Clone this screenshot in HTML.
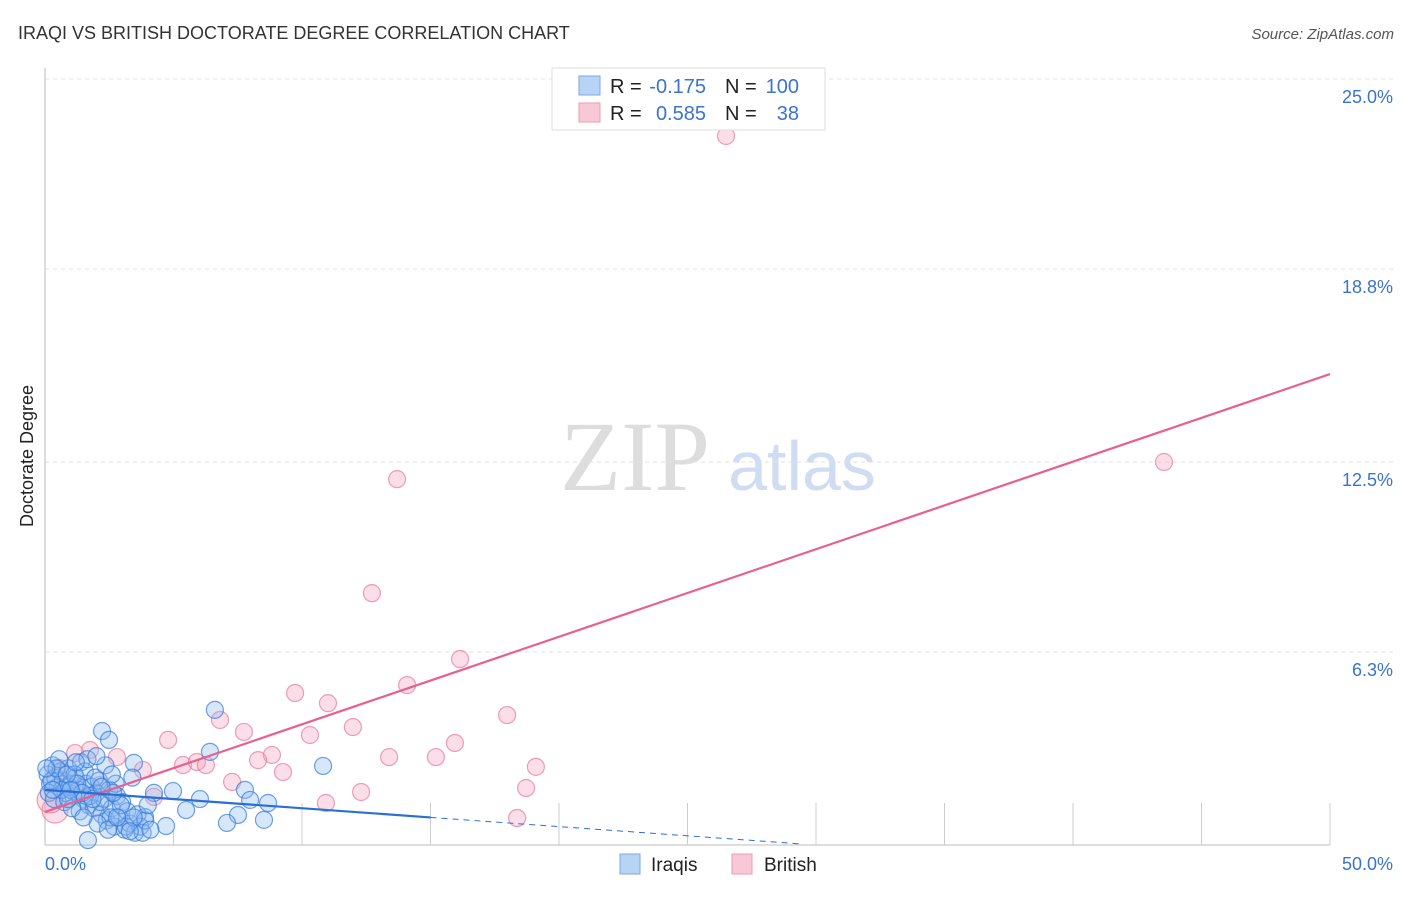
<!DOCTYPE html>
<html><head><meta charset="utf-8">
<style>
body{margin:0;background:#fff;font-family:"Liberation Sans",sans-serif;}
</style></head>
<body>
<svg id="chart" width="1406" height="892" style="font-family:'Liberation Sans',sans-serif">
<text x="18" y="39" font-size="18" fill="#333">IRAQI VS BRITISH DOCTORATE DEGREE CORRELATION CHART</text>
<text x="1394" y="39" font-size="15" fill="#555" font-style="italic" text-anchor="end">Source: ZipAtlas.com</text>
<text transform="translate(33,456) rotate(-90)" font-size="18" fill="#222" text-anchor="middle">Doctorate Degree</text>
<g>
<text x="635" y="490" font-size="100" fill="#ddd" style="font-family:'Liberation Serif',serif" text-anchor="middle">ZIP</text>
<text x="802" y="490" font-size="70" fill="#cfdcf2" text-anchor="middle">atlas</text>
</g>
<g id="grid"></g>
<g id="marks"></g>
<g id="lines"></g>
<g>
<rect x="552" y="68" width="273" height="62" fill="#fff" stroke="#ddd"/>
<rect x="579" y="76" width="21" height="19" fill="#b8d4f5" stroke="#7aaae6"/>
<rect x="579" y="103" width="21" height="19" fill="#f8c8d6" stroke="#ec9ab2"/>
<text x="610" y="93" font-size="20" fill="#222">R =</text>
<text x="706" y="93" font-size="20" fill="#3a73d0" text-anchor="end">-0.175</text>
<text x="725" y="93" font-size="20" fill="#222">N =</text>
<text x="799" y="93" font-size="20" fill="#3a73d0" text-anchor="end">100</text>
<text x="610" y="120" font-size="20" fill="#222">R =</text>
<text x="706" y="120" font-size="20" fill="#3a73d0" text-anchor="end">0.585</text>
<text x="725" y="120" font-size="20" fill="#222">N =</text>
<text x="799" y="120" font-size="20" fill="#3a73d0" text-anchor="end">38</text>
</g>
<g>
<rect x="620" y="854" width="20" height="20" fill="#b8d4f5" stroke="#7aaae6"/>
<text x="651" y="871" font-size="19" fill="#222">Iraqis</text>
<rect x="732" y="854" width="20" height="20" fill="#f8c8d6" stroke="#ec9ab2"/>
<text x="764" y="871" font-size="19" fill="#222">British</text>
</g>
</svg>
<script>
const yTicks=[25,18.8,12.5,6.3];
const yTickLabels=["25.0%","18.8%","12.5%","6.3%"];
const xTickLabels=["0.0%","50.0%"];
const britishX=[26.5,13.7,12.72,43.54,16.15,14.09,9.73,11.01,17.98,6.81,11.98,7.74,4.79,10.31,15.95,1.75,2.8,8.83,13.39,15.21,5.37,5.91,6.26,8.29,9.26,19.1,3.81,7.28,4.24,12.3,10.93,18.72,18.37,1.17,0.58,2.14,0.39,0.2];
const britishY=[23.14,11.94,8.22,12.5,6.07,5.22,4.96,4.63,4.24,4.08,3.85,3.69,3.43,3.59,3.33,3.1,2.87,2.94,2.87,2.87,2.61,2.71,2.61,2.77,2.38,2.55,2.45,2.06,1.57,1.73,1.37,1.86,0.88,3.0,2.51,1.96,1.14,1.47];
const iraqiX=[6.61,2.22,2.49,6.42,10.82,3.46,7.78,8.68,6.03,7.98,5.49,4.98,4.24,7.51,7.08,8.52,4.71,3.89,1.67,
0.1,0.2,0.3,0.4,0.5,0.6,0.7,0.8,0.9,1.0,1.1,1.2,1.3,1.4,1.5,1.6,1.7,1.8,1.9,2.0,2.1,2.2,2.3,2.4,2.5,2.6,2.7,2.8,2.9,3.0,3.1,3.2,3.3,3.4,3.5,3.6,3.7,3.8,3.9,4.1,
0.15,0.35,0.55,0.75,0.95,1.15,1.35,1.55,1.75,1.95,2.15,2.35,2.55,2.75,2.95,1.25,0.65,1.45,1.85,2.05,0.25,0.45,0.85,1.05,1.65,2.45,2.65,3.15,3.45,0.05,1.0,2.2,2.8,3.3,0.9,1.5,2.0,1.2,4.0,0.3,2.6];
const iraqiY=[4.41,3.72,3.43,3.04,2.58,2.68,1.8,1.37,1.5,1.47,1.14,1.76,1.7,0.98,0.72,0.82,0.62,0.91,0.16,
2.3,2.0,2.6,2.2,1.9,2.4,2.1,1.7,2.5,2.0,1.6,2.2,1.8,2.7,1.5,2.0,1.3,1.9,1.2,1.7,2.1,1.0,1.5,0.8,1.8,1.2,0.6,1.6,0.9,1.4,0.5,1.1,0.7,2.2,0.4,1.0,0.6,0.4,0.8,0.5,
1.7,1.5,2.8,1.4,1.9,2.3,1.1,2.4,1.6,2.2,1.4,2.6,0.9,2.0,1.3,2.0,1.8,1.7,1.5,0.7,2.1,2.5,2.3,1.2,2.8,0.5,1.7,0.6,0.9,2.5,1.8,1.9,0.9,0.45,1.5,0.9,2.9,2.7,1.3,1.8,2.3];
const iraqiTrend=[1.8,-0.06];
const britishTrend=[1.08,0.2858];
const NS="http://www.w3.org/2000/svg";
const X=v=>45+v*25.7, Y=v=>845-v*30.64;
function mk(t,a,p){const e=document.createElementNS(NS,t);for(const k in a)e.setAttribute(k,a[k]);p.appendChild(e);return e;}
const grid=document.getElementById('grid'),marks=document.getElementById('marks'),lines=document.getElementById('lines');
yTicks.forEach((t,i)=>{
 const l=mk('line',{x1:45,x2:1395,y1:Y(t),y2:Y(t),stroke:'#e2e2e2','stroke-dasharray':'4,4'},grid);
 
 
 const tx=mk('text',{x:1393,y:Y(t)+24,'font-size':18,fill:'#3a73d0','text-anchor':'end'},grid);
 tx.textContent=yTickLabels[i];
 
 
});
const ax=mk('line',{x1:45,x2:45,y1:68,y2:845,stroke:'#bbb'},grid);


const bx=mk('line',{x1:45,x2:1330,y1:845,y2:845,stroke:'#bbb'},grid);


for(let i=1;i<=10;i++){const tk=mk('line',{x1:X(i*5),x2:X(i*5),y1:i<=1?830:803,y2:845,stroke:'#ccc'},grid);
 
 }
xTickLabels.forEach((s,i)=>{const tx=mk('text',{x:i?1393:45,y:870,'font-size':18,fill:'#3a73d0','text-anchor':i?'end':'start'},grid);tx.textContent=s;
 
 });
britishX.forEach((x,i)=>{const c=mk('circle',{cx:X(x),cy:Y(britishY[i]),r:(i>=36?13:8.5),fill:'rgba(244,160,188,0.35)',stroke:'rgba(230,120,155,0.7)','stroke-width':1.2},marks);
 
 });
iraqiX.forEach((x,i)=>{const c=mk('circle',{cx:X(x),cy:Y(iraqiY[i]),r:8.5,fill:'rgba(140,185,240,0.35)',stroke:'rgba(50,120,220,0.7)','stroke-width':1.2},marks);
 
 });
const pl=mk('line',{x1:X(0),y1:Y(britishTrend[0]),x2:X(50),y2:Y(britishTrend[0]+50*britishTrend[1]),stroke:'#e8608e','stroke-width':2.2},lines);


const bl=mk('line',{x1:X(0),y1:Y(iraqiTrend[0]),x2:X(15),y2:Y(iraqiTrend[0]+15*iraqiTrend[1]),stroke:'#2a6fd6','stroke-width':2.2},lines);


const bd=mk('line',{x1:X(15),y1:Y(iraqiTrend[0]+15*iraqiTrend[1]),x2:X(29.5),y2:Y(iraqiTrend[0]+29.5*iraqiTrend[1]),stroke:'#2a6fd6','stroke-width':1,'stroke-dasharray':'6,5'},lines);


</script>
</body></html>
